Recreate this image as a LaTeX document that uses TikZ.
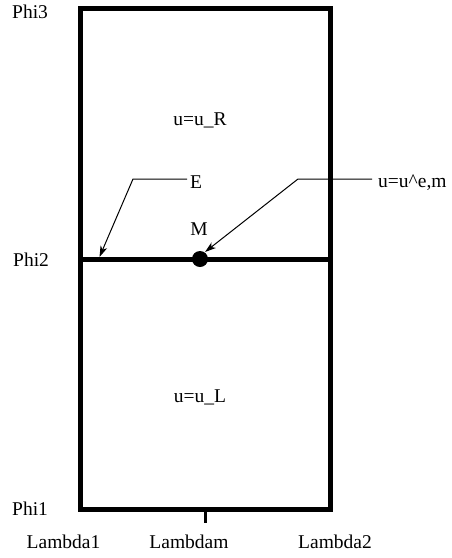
\documentclass[tikz,border=0pt]{standalone}
\usepackage{fontspec}
\setmainfont{Liberation Serif}
\usetikzlibrary{arrows.meta}
\begin{document}
\begin{tikzpicture}[x=1pt,y=-1pt,
  lbl/.style={font=\fontsize{19.5}{22}\selectfont, inner sep=0pt, anchor=base},
  lblw/.style={lbl, anchor=base west},
  thick border/.style={line width=5pt, line cap=rect},
  leader/.style={line width=1pt, -{Stealth[length=11pt,width=7pt,inset=3pt]}}]
\useasboundingbox (0,0) rectangle (452,558);
% frame
\draw[thick border] (80.5,8.5) rectangle (330,509);
\draw[line width=5pt] (80.5,259) -- (330,259);
\draw[line width=2.5pt] (205.7,509) -- (205.7,523);
\fill (200,259) circle (8);
\coordinate (dot) at (200,259);
% labels
\node[lblw] (phi3) at (12,18) {Phi3};
\node[lblw] (phi2) at (13,266) {Phi2};
\node[lblw] (phi1) at (12,515) {Phi1};
\node[lbl] (l1) at (63.5,548) {Lambda1};
\node[lbl] (lm) at (189,548) {Lambdam};
\node[lbl] (l2) at (335,548) {Lambda2};
\node[lbl] (uR) at (200,125) {u=u\_R};
\node[lbl] (uL) at (200,402) {u=u\_L};
\node[lbl] (M) at (199,235) {M};
\node[lblw] (E) at (190,188) {E};
\node[lblw] (ue) at (378,187) {u=u\textasciicircum e,m};
% leaders
\coordinate (Ebend) at (133,179);
\coordinate (Etip) at (99.5,257);
\coordinate (ubend) at (298,179);
\coordinate (utip) at (205,252);
\draw[leader] (E.west |- Ebend) ++(-3,0) -- (Ebend) -- (Etip);
\draw[leader] (ue.west |- ubend) ++(-6,0) -- (ubend) -- (utip);
\end{tikzpicture}
\end{document}
